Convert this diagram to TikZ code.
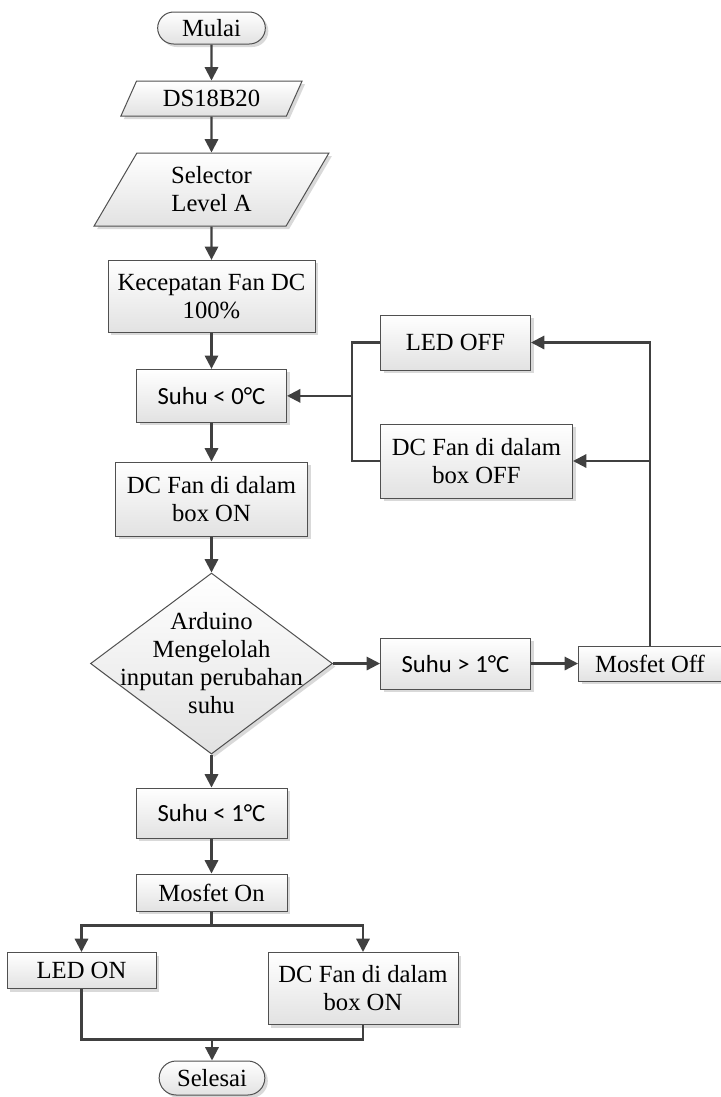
\documentclass[tikz,border=0pt]{standalone}
\usepackage{fontspec}
\setmainfont{Liberation Serif}
\newfontfamily\calfont{Carlito}
\usepackage{tikz}
\usetikzlibrary{arrows.meta,positioning,shapes.geometric,shapes.misc,calc,shadows}
\definecolor{linegray}{RGB}{64,64,64}
\definecolor{boxgray}{RGB}{80,80,80}
\definecolor{shadegray}{RGB}{226,226,226}
\newcommand{\flowfont}{\fontsize{18.5}{21}\selectfont}
\tikzset{
  flowbox/.style={draw=boxgray, line width=0.75pt, top color=white, bottom color=shadegray, drop shadow={shadow xshift=2.25pt, shadow yshift=-2.25pt, fill=black!15, opacity=1}, font=\flowfont, align=center, inner sep=2pt},
  term/.style={flowbox, rounded rectangle},
  io/.style={flowbox, trapezium, trapezium left angle=64, trapezium right angle=116, trapezium stretches=true},
  proc/.style={flowbox, rectangle},
  decision/.style={flowbox, diamond, aspect=1.34, inner xsep=-25pt, inner ysep=-20pt},
  link/.style={draw=linegray, line width=1.6pt},
  arrow/.style={link, -{Triangle[length=10pt, width=10pt]}}
}
\begin{document}
\begin{tikzpicture}[x=0.75pt, y=-0.75pt, node distance=27pt and 35.25pt]
  \useasboundingbox (0,0) rectangle (721,1097);
  \node[term, minimum width=84.75pt, minimum height=24pt] (mulai) at (211.5,28) {Mulai};
  \node[io, minimum width=136.5pt, minimum height=26.25pt, below=of mulai] (ds) {DS18B20};
  \node[io, minimum width=176.25pt, minimum height=54.75pt, below=of ds] (selector) {Selector\\Level A};
  \node[proc, minimum width=155.25pt, minimum height=54pt, below=25pt of selector] (kec) {Kecepatan Fan DC\\100\%};
  \node[proc, minimum width=112.5pt, minimum height=39.75pt, below=of kec] (suhunol) {\calfont Suhu < 0°C};
  \node[proc, minimum width=144pt, minimum height=55.5pt, below=29pt of suhunol] (fanon) {DC Fan di dalam\\box ON};
  \node[decision, minimum width=181.5pt, minimum height=135.75pt, below=27pt of fanon] (olah) {Arduino\\Mengelolah\\inputan perubahan\\suhu};
  \node[proc, minimum width=113.25pt, minimum height=37.5pt, below=24.75pt of olah] (suhukurang) {\calfont Suhu < 1°C};
  \node[proc, minimum width=113.25pt, minimum height=27.75pt, below=26.25pt of suhukurang] (mosfeton) {Mosfet On};
  \node[proc, minimum width=112.5pt, minimum height=38.25pt, right=of olah] (suhulebih) {\calfont Suhu > 1°C};
  \node[proc, minimum width=107.25pt, minimum height=26.25pt, right=of suhulebih] (mosfetoff) {Mosfet Off};
  \node[proc, minimum width=112.5pt, minimum height=41.25pt, anchor=west] (ledoff) at (380,342.5) {LED OFF};
  \node[proc, minimum width=144pt, minimum height=55.5pt, anchor=west] (fanoff) at (380,461) {DC Fan di dalam\\box OFF};
  \node[proc, minimum width=111.75pt, minimum height=27pt, anchor=north] (ledon) at (81.5,952) {LED ON};
  \node[proc, minimum width=142.5pt, minimum height=54pt, anchor=north] (fanbox) at (363,952) {DC Fan di dalam\\box ON};
  \node[term, minimum width=83.25pt, minimum height=25.5pt] (selesai) at (212,1078) {Selesai};

  \draw[arrow] (mulai) -- (ds);
  \draw[arrow] (ds) -- (selector);
  \draw[arrow] (selector) -- (kec);
  \draw[arrow] (kec) -- (suhunol);
  \draw[arrow] (suhunol) -- (fanon);
  \draw[arrow] (fanon) -- (olah);
  \draw[arrow] (olah) -- (suhukurang);
  \draw[arrow] (suhukurang) -- (mosfeton);
  \draw[arrow] (olah) -- (suhulebih);
  \draw[arrow] (suhulebih) -- (mosfetoff);
  \draw[arrow] (mosfetoff.north) |- (ledoff.east);
  \draw[arrow] (mosfetoff.north |- fanoff.east) -- (fanoff.east);
  \coordinate (back) at ($(suhunol.east)+(65,0)$);
  \draw[link] (ledoff.west) -| (back) |- (fanoff.west);
  \draw[arrow] (back) -- (suhunol.east);

  \coordinate (split) at ($(mosfeton.south)+(0,14)$);
  \draw[link] (mosfeton.south) -- (split);
  \draw[arrow] (split) -| (ledon.north);
  \draw[arrow] (split) -| (fanbox.north);
  \coordinate (join) at ($(selesai.north)+(0,-21)$);
  \draw[link] (ledon.south) |- (join);
  \draw[link] (fanbox.south) |- (join);
  \draw[arrow] (join) -- (selesai.north);
\end{tikzpicture}
\end{document}
